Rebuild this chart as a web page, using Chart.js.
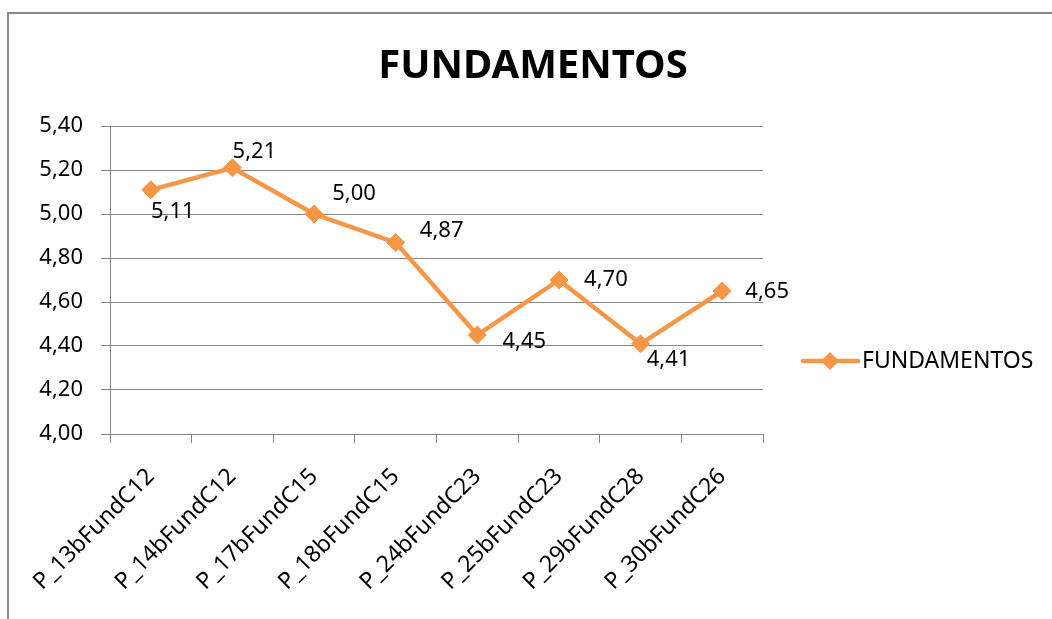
<!DOCTYPE html>
<html>
<head>
<meta charset="utf-8">
<style>
  html, body { margin: 0; padding: 0; background: #fff; }
  #wrap { width: 1052px; height: 619px; position: relative; }
</style>
<script src="https://cdn.jsdelivr.net/npm/chart.js@4"></script>
</head>
<body>
<div id="wrap"><canvas id="chart" width="1052" height="619"></canvas></div>
<script>
  // data
  var categories = ['P_13bFundC12', 'P_14bFundC12', 'P_17bFundC15', 'P_18bFundC15',
                    'P_24bFundC23', 'P_25bFundC23', 'P_29bFundC28', 'P_30bFundC26'];
  var values = [5.11, 5.21, 5.00, 4.87, 4.45, 4.70, 4.41, 4.65];
  var seriesName = 'FUNDAMENTOS';
  var yTicks = { min: 4.0, max: 5.4, step: 0.2 };

  // where each value label sits relative to its point (Excel placement)
  var labelOffsets = [[22, 22], [22, -16], [40, -20], [46, -12], [47, 7], [47, 0], [28, 16], [45, 1]];

  var ORANGE = '#F79646';
  var GRID = '#868686';
  var FONT = '"Noto Sans", "Open Sans", sans-serif';

  function fmt(v) { return v.toFixed(2).replace('.', ','); }

  var frame = {
    id: 'frame',
    beforeDraw: function (chart) {
      var ctx = chart.ctx;
      ctx.save();
      ctx.strokeStyle = '#898989';
      ctx.lineWidth = 2;
      ctx.beginPath();
      ctx.moveTo(8, chart.height);
      ctx.lineTo(8, 13);
      ctx.lineTo(chart.width, 13);
      ctx.stroke();
      ctx.restore();
    }
  };

  var valueLabels = {
    id: 'valueLabels',
    afterDatasetsDraw: function (chart) {
      var ctx = chart.ctx;
      var meta = chart.getDatasetMeta(0);
      ctx.save();
      ctx.font = '22px ' + FONT;
      ctx.fillStyle = '#000';
      ctx.textAlign = 'center';
      ctx.textBaseline = 'middle';
      meta.data.forEach(function (pt, i) {
        var off = labelOffsets[i] || [0, 0];
        ctx.fillText(fmt(values[i]), pt.x + off[0], pt.y + off[1]);
      });
      ctx.restore();
    }
  };

  var sideLegend = {
    id: 'sideLegend',
    afterDraw: function (chart) {
      var ctx = chart.ctx;
      var a = chart.chartArea;
      var x0 = a.right + 40, y = 361;
      ctx.save();
      ctx.strokeStyle = ORANGE;
      ctx.lineWidth = 4.5;
      ctx.lineCap = 'round';
      ctx.beginPath();
      ctx.moveTo(x0, y);
      ctx.lineTo(x0 + 55, y);
      ctx.stroke();
      ctx.fillStyle = ORANGE;
      ctx.beginPath();
      ctx.moveTo(x0 + 27, y - 9);
      ctx.lineTo(x0 + 36, y);
      ctx.lineTo(x0 + 27, y + 9);
      ctx.lineTo(x0 + 18, y);
      ctx.closePath();
      ctx.fill();
      ctx.fillStyle = '#000';
      ctx.font = '23px ' + FONT;
      ctx.textAlign = 'left';
      ctx.textBaseline = 'middle';
      ctx.fillText(chart.data.datasets[0].label, x0 + 59, y);
      ctx.restore();
    }
  };

  new Chart(document.getElementById('chart'), {
    type: 'line',
    data: {
      labels: categories,
      datasets: [{
        label: seriesName,
        data: values,
        borderColor: ORANGE,
        backgroundColor: ORANGE,
        borderWidth: 4.5,
        pointStyle: 'rectRot',
        pointRadius: 9,
        pointBorderWidth: 1,
        pointHoverRadius: 9,
        tension: 0
      }]
    },
    options: {
      responsive: false,
      animation: false,
      layout: { padding: { left: 14, right: 0, top: 0, bottom: 0 } },
      plugins: {
        legend: { display: false },
        tooltip: { enabled: false },
        title: {
          display: true,
          text: 'FUNDAMENTOS',
          color: '#000',
          font: { family: FONT, size: 40, weight: 'bold', lineHeight: 1.2 },
          padding: { top: 43, bottom: 35 }
        }
      },
      scales: {
        x: {
          offset: true,
          grid: { display: true, offset: true, drawOnChartArea: false, color: GRID, tickLength: 9, lineWidth: 1 },
          border: { display: true, color: GRID, width: 1 },
          ticks: {
            color: '#000',
            font: { family: FONT, size: 23 },
            minRotation: 45,
            maxRotation: 45,
            padding: 20,
            autoSkip: false
          },
          afterFit: function (scale) { scale.height = 185; }
        },
        y: {
          min: yTicks.min,
          max: yTicks.max,
          grid: { color: GRID, tickLength: 9, lineWidth: 1 },
          border: { display: true, color: GRID, width: 1 },
          ticks: {
            stepSize: yTicks.step,
            color: '#000',
            font: { family: FONT, size: 22 },
            padding: 18,
            callback: function (v) { return fmt(v); }
          },
          afterFit: function (scale) { scale.width = 96; }
        },
        spacer: {
          position: 'right',
          display: true,
          grid: { display: false },
          border: { display: false },
          ticks: { display: false },
          afterFit: function (scale) { scale.width = 289; }
        }
      }
    },
    plugins: [frame, valueLabels, sideLegend]
  });
</script>
</body>
</html>
